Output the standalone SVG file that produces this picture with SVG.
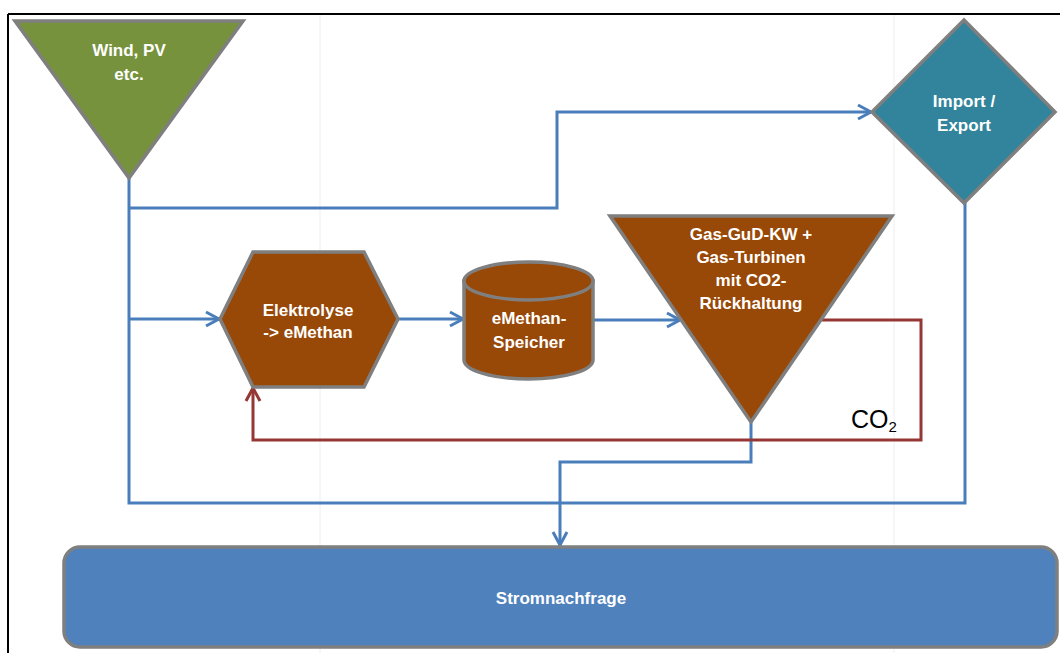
<svg xmlns="http://www.w3.org/2000/svg" width="1060" height="653" viewBox="0 0 1060 653">
<style>
.lbl{font-family:"Liberation Sans",Arial,sans-serif;font-weight:bold;font-size:17px;fill:#fff;text-anchor:middle}
.shape{stroke:#7f7f7f;stroke-width:3.5;stroke-linejoin:miter}
.blue{fill:none;stroke:#4a7ebb;stroke-width:3}
.red{fill:none;stroke:#953735;stroke-width:3}
.grid{stroke:#eeeeee;stroke-width:1}
</style>
<defs>
<marker id="ab" markerUnits="userSpaceOnUse" markerWidth="20" markerHeight="20" viewBox="-16 -10 20 20" refX="0" refY="0" orient="auto">
<path d="M-13,-7 L0,0 L-13,7" fill="none" stroke="#4a7ebb" stroke-width="3"/>
</marker>
<marker id="ar" markerUnits="userSpaceOnUse" markerWidth="20" markerHeight="20" viewBox="-16 -10 20 20" refX="0" refY="0" orient="auto">
<path d="M-13,-7 L0,0 L-13,7" fill="none" stroke="#953735" stroke-width="3"/>
</marker>
</defs>
<rect width="1060" height="653" fill="#fff"/>
<g id="frame">
<line class="grid" x1="320" y1="14" x2="320" y2="653"/>
<line class="grid" x1="894" y1="14" x2="894" y2="653"/>
<line x1="8" y1="14" x2="1060" y2="14" stroke="#000" stroke-width="2"/>
<line x1="8" y1="14" x2="8" y2="653" stroke="#000" stroke-width="2"/>
</g>
<g id="connectors">
<path class="blue" d="M129,178 V503 H965 V202"/>
<path class="blue" d="M129,208 H557 V112 H871" marker-end="url(#ab)"/>
<path class="blue" d="M129,319 H219" marker-end="url(#ab)"/>
<path class="blue" d="M398,319 H463" marker-end="url(#ab)"/>
<path class="blue" d="M593,320 H680" marker-end="url(#ab)"/>
<path class="blue" d="M751,422 V462 H560 V545" marker-end="url(#ab)"/>
<path class="red" d="M821,320 H921 V440 H253 V388" marker-end="url(#ar)"/>
<text x="851" y="428" font-family="Liberation Sans,Arial,sans-serif" font-size="25" fill="#000">CO<tspan font-size="15" dy="4">2</tspan></text>
</g>
<g id="wind">
<polygon class="shape" points="15,21 243,21 129,178" fill="#76923c"/>
<text class="lbl" x="129" y="56">Wind, PV</text>
<text class="lbl" x="129" y="80">etc.</text>
</g>
<g id="import">
<polygon class="shape" points="964,20 1055,112 964,203 872,112" fill="#31849b"/>
<text class="lbl" x="964" y="107">Import /</text>
<text class="lbl" x="964" y="131">Export</text>
</g>
<g id="elektrolyse">
<polygon class="shape" points="253,252 364,252 398,319 364,387 253,387 220,319" fill="#984807"/>
<text class="lbl" x="308" y="316">Elektrolyse</text>
<text class="lbl" x="308" y="338">-&gt; eMethan</text>
</g>
<g id="speicher">
<path class="shape" d="M464,281 V360 A64.5,19 0 0 0 593,360 V281 Z" fill="#984807"/>
<ellipse class="shape" cx="528.5" cy="281" rx="64.5" ry="19" fill="#984807"/>
<text class="lbl" x="529" y="324">eMethan-</text>
<text class="lbl" x="529" y="348">Speicher</text>
</g>
<g id="gaskw">
<polygon class="shape" points="610,216 892,216 751,422" fill="#984807"/>
<text class="lbl" x="751" y="240" font-size="16.5">Gas-GuD-KW +</text>
<text class="lbl" x="751" y="263" font-size="16.5">Gas-Turbinen</text>
<text class="lbl" x="751" y="286" font-size="16.5">mit CO2-</text>
<text class="lbl" x="751" y="309" font-size="16.5">Rückhaltung</text>
</g>
<g id="strom">
<rect class="shape" x="64" y="547" width="993" height="100" rx="16" fill="#4f81bd"/>
<text class="lbl" x="561" y="604">Stromnachfrage</text>
</g>
</svg>
